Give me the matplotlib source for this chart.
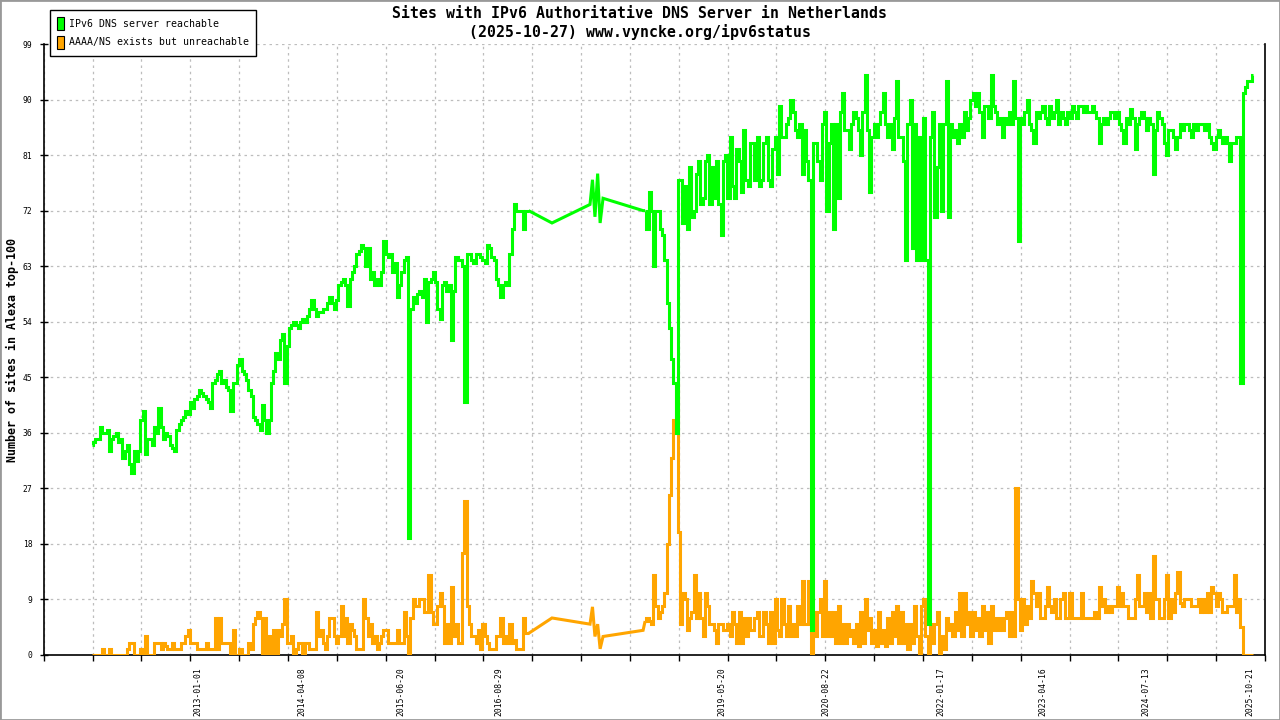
import matplotlib
matplotlib.use("Agg")
import matplotlib.pyplot as plt
import matplotlib.dates as mdates
from matplotlib.patches import Patch, Rectangle
import numpy as np
import pandas as pd

GREEN = "#00ff00"
ORANGE = "#ffa500"
MONO = "DejaVu Sans Mono"

TITLE_1 = "Sites with IPv6 Authoritative DNS Server in Netherlands"
TITLE_2 = "(2025-10-27) www.vyncke.org/ipv6status"
Y_LABEL = "Number of sites in Alexa top-100"
LEGEND = ["IPv6 DNS server reachable", "AAAA/NS exists but unreachable"]

# first block of samples, one value every 10 days
START_A = "2011-09-18"
reach_a = [34, 34.5, 35, 35, 37, 36, 36, 36.5, 33, 35,
           35.5, 36, 34.5, 35, 32, 33, 34, 31, 29.5, 33,
           31.5, 33, 38, 39.5, 32.5, 35, 35, 34, 37, 36,
           40, 37, 35, 36, 35.5, 34, 33.5, 33, 36.5, 37.5,
           38, 38.5, 39.5, 39, 41, 40, 41.5, 42, 43, 42.5,
           42, 41.5, 41, 40, 44, 44.5, 45.5, 46, 44, 44.5,
           43.5, 43, 39.5, 44, 44, 47, 48, 46, 45.5, 44.5,
           43, 42, 38.5, 38, 37.5, 36.5, 40.5, 38, 36, 38,
           44, 46, 49, 48, 51, 52, 44, 50, 53, 53.5,
           54, 53.5, 53, 54, 54.5, 54, 55, 56, 57.5, 56,
           55, 55.5, 55.5, 56, 56, 57, 58, 57, 56, 57.5,
           60, 60.5, 61, 60, 56.5, 61, 62, 63, 65, 65.5,
           66.5, 66, 63, 66, 61, 62, 60, 61, 60, 62,
           67, 65, 64.5, 65, 62, 63.5, 58, 60, 62, 64,
           64.5, 19, 56, 58, 57, 58.5, 59, 58, 61, 54,
           60.5, 61, 62, 60.5, 56, 54.5, 60, 60.5, 59, 60,
           51, 59, 64.5, 64, 64, 63, 41, 65, 65, 64,
           63.5, 65, 65, 64.5, 64, 63.5, 66.5, 66, 64.5, 64,
           61, 60, 58, 60, 60.5, 60, 65, 69, 73, 72,
           72, 72, 69, 72, 72]
unreach_a = [0, 0, 0, 0, 0, 1, 0, 0, 1, 0,
             0, 0, 0, 0, 0, 0, 1, 2, 2, 0,
             0, 0, 1, 0, 3, 0, 0, 0, 2, 2,
             2, 1, 2, 1.5, 1, 1, 2, 1, 1, 1,
             2, 2, 3, 4, 2, 2, 2, 1, 1, 1,
             1, 2, 1, 1, 1, 6, 1, 6, 2, 2,
             2, 2, 0, 4, 0, 0, 1, 0, 0, 0,
             2, 1, 5, 6, 7, 6, 0, 6, 0, 3,
             0, 4, 0, 4, 3, 5, 9, 2, 2, 3,
             0, 1, 2, 2, 0, 2, 2, 1, 1, 1,
             7, 3, 4, 2, 1, 3, 6, 6, 3, 2,
             3, 8, 3, 6, 2, 5, 4, 3, 1, 1,
             1, 9, 6, 3, 5, 2, 3, 1, 2, 3,
             4, 4, 2, 2, 2, 2, 4, 2, 2, 7,
             3, 0, 6, 9, 8, 8, 9, 9, 7, 7,
             13, 7, 5, 5, 8, 10, 8, 2, 5, 2,
             11, 3, 5, 2, 2, 16.5, 25, 8, 5, 3,
             3, 2, 4, 1, 5, 3, 2, 1, 1, 1,
             3, 3, 6, 2, 3, 2, 5, 2, 2.5, 1,
             1, 1, 6, 3.5, 3.5]

# sparse measurements 2017-2018
gap_dates = ["2017-04-23", "2017-10-09", "2017-10-20", "2017-10-31",
             "2017-11-12", "2017-11-23", "2017-12-06", "2018-06-02"]
gap_reach = [70, 73, 77, 71, 78, 70, 74, 72]
gap_unreach = [6, 5, 7.8, 3, 5, 1, 3, 4]

# second block, one value every 10 days
START_B = "2018-06-11"
reach_b = [72, 69, 75, 72, 63, 72, 72, 69, 68, 64,
           57, 53, 48, 44, 36, 77, 77, 70, 76, 69,
           79, 71, 72, 78, 80, 73, 74, 80, 81, 73,
           79, 74, 80, 73, 68, 80, 81, 74, 84, 76,
           74, 82, 80, 75, 85, 77, 76, 83, 83, 77,
           84, 76, 77, 83, 84, 77, 76, 82, 84, 78,
           89, 84, 84, 86, 87, 90, 88, 85, 84, 86,
           78, 85, 80, 77, 4, 83, 83, 80, 77, 86,
           88, 72, 83, 86, 69, 86, 74, 88, 91, 85,
           85, 82, 86, 88, 87, 85, 81, 88, 94, 85,
           75, 84, 86, 84, 86, 88, 91, 86, 84, 86,
           82, 87, 93, 84, 84, 80, 64, 86, 90, 66,
           86, 64, 84, 64, 87, 64, 5, 84, 88, 71,
           79, 86, 72, 86, 93, 71, 86, 84, 85, 83,
           86, 84, 88, 85, 87, 90, 91, 89, 91, 88,
           84, 89, 89, 87, 94, 89, 88, 86, 87, 84,
           87, 86, 88, 86, 93, 87, 67, 87, 86, 88,
           90, 86, 85, 83, 88, 87, 88, 89, 87, 86,
           89, 87, 88, 90, 86, 88, 87, 86, 88, 87,
           89, 88, 87, 89, 89, 88, 89, 88, 88, 89,
           88, 87, 83, 86, 87, 86, 87, 88, 88, 87,
           88, 86, 85, 83, 87, 86, 88.5, 87, 82, 86,
           87, 88, 87, 85, 87, 86, 78, 85, 88, 87,
           86, 83, 81, 85, 85, 84, 82, 84, 86, 85,
           86, 86, 85, 84, 86, 85, 86, 86, 86, 85,
           86, 84, 83, 82, 84, 85, 84, 83, 84, 83,
           80, 83, 83, 84, 84, 44, 91, 92, 93, 93,
           94]
unreach_b = [5.5, 6, 5.5, 5, 13, 8, 6, 7, 8, 10,
             18, 26, 32, 38, 44, 20, 5, 10, 9, 4,
             6, 7, 13, 6, 10, 6, 3, 10, 8, 5,
             5, 4, 2, 5, 5, 4, 4, 5, 3, 7,
             5, 2, 7, 2, 6, 3, 6, 4, 4, 6,
             7, 3, 3, 7, 5, 2, 7, 2, 9, 4,
             3, 9, 5, 3, 8, 3, 5, 3, 8, 5,
             12, 5, 5, 12, 0, 7, 3, 7, 9, 3,
             12, 3, 7, 3, 7, 2, 8, 2, 5, 2,
             5, 3, 4, 2, 5, 1.5, 7, 2, 9, 4,
             6, 2, 4, 1.5, 7, 2, 4, 1.5, 6, 2,
             7, 3, 8, 2, 7, 2, 5, 1, 5, 2,
             8, 3, 0, 8, 9, 3, 0, 5, 2, 5,
             7, 0, 3, 1, 6, 4, 5, 3, 7, 4,
             10, 3, 10, 5, 7, 3, 7, 4, 6, 3,
             8, 4, 7, 2, 8, 4, 6, 4, 6, 4,
             6, 7, 3, 7, 3, 27, 9, 4, 9, 5,
             8, 6, 12, 10, 8, 10, 6, 6, 8, 11,
             8, 7, 9, 6, 6, 9, 10, 6, 6, 10,
             6, 6, 6, 6, 10, 6, 6, 6, 6, 6,
             7, 6, 11, 8, 9, 7, 8, 7, 8, 8,
             11, 8, 10, 8, 8, 6, 6, 6, 9, 13,
             8, 8, 10, 7, 10, 6, 16, 9, 9, 6,
             6, 9, 13, 6, 9, 7, 10, 13.5, 8.5, 8,
             9, 9, 9, 8, 8, 8, 9, 7, 9, 7,
             10, 7, 11, 10, 8, 10, 9, 7, 7, 8,
             8, 8, 13, 7, 9, 4.5, 0, 0, 0, 0,
             0]

label_dates = ["2013-01-01", "2014-04-08", "2015-06-20", "2016-08-29",
               "2019-05-20", "2020-08-22", "2022-01-17", "2023-04-16",
               "2024-07-13", "2025-10-21"]
y_ticks = list(range(0, 100, 9))

dates_a = pd.date_range(START_A, periods=len(reach_a), freq="10D")
dates_b = pd.date_range(START_B, periods=len(reach_b), freq="10D")
gap = list(pd.to_datetime(gap_dates))

fig = plt.figure(figsize=(12.8, 7.2), dpi=100)
ax = fig.add_axes([43.7 / 1280, 65 / 720, (1265 - 43.7) / 1280, 611 / 720])


def draw(vals_a, vals_gap, vals_b, color, z):
    kw = dict(color=color, lw=2.2, solid_capstyle="butt", solid_joinstyle="miter", zorder=z)
    ax.plot(dates_a, vals_a, drawstyle="steps-mid", **kw)
    ax.plot(dates_b, vals_b, drawstyle="steps-mid", **kw)
    # days without data are bridged with straight lines
    ax.plot([dates_a[-1]] + gap + [dates_b[0]],
            [vals_a[-1]] + vals_gap + [vals_b[0]], **kw)


draw(unreach_a, gap_unreach, unreach_b, ORANGE, 3)
draw(reach_a, gap_reach, reach_b, GREEN, 4)

x_lo = pd.Timestamp("2011-02-15")
x_hi = pd.Timestamp("2025-12-26")
ax.set_xlim(x_lo, x_hi)
ax.set_ylim(0, 99)

lo, hi = mdates.date2num(x_lo), mdates.date2num(x_hi)
ax.set_xticks(np.linspace(lo, hi, 26), minor=True)
ax.set_xticks(pd.to_datetime(label_dates))
ax.set_xticklabels(label_dates, rotation=90, fontsize=5.8, family=MONO)
ax.tick_params(axis="x", which="major", length=0, pad=8.5)
ax.tick_params(axis="x", which="minor", length=4.5, width=1, direction="out")

ax.set_yticks(y_ticks)
ax.set_yticklabels([str(v) for v in y_ticks], fontsize=5.8, family=MONO)
ax.tick_params(axis="y", length=6, width=1, direction="inout", pad=5)

grid_kw = dict(color="#bdbdbd", lw=0.9, linestyle=(0, (2, 3)))
ax.xaxis.grid(True, which="minor", **grid_kw)
ax.xaxis.grid(False, which="major")
ax.yaxis.grid(True, which="major", **grid_kw)
ax.set_axisbelow(True)

ax.spines["top"].set_visible(False)
for side in ["left", "bottom", "right"]:
    ax.spines[side].set_linewidth(1.2)
    ax.spines[side].set_color("black")

fig.text(0.5, 1 - 13 / 720, TITLE_1, ha="center", va="center", family=MONO,
         fontsize=10.7, fontweight="semibold")
fig.text(0.5, 1 - 32 / 720, TITLE_2, ha="center", va="center", family=MONO,
         fontsize=10.7, fontweight="semibold")
fig.text(12 / 1280, 370 / 720, Y_LABEL, rotation=90, ha="center", va="center",
         family=MONO, fontsize=8.4, fontweight="bold")

handles = [Patch(facecolor=GREEN, edgecolor="black", linewidth=0.8),
           Patch(facecolor=ORANGE, edgecolor="black", linewidth=0.8)]
leg = fig.legend(handles, LEGEND, loc="upper left", bbox_to_anchor=(50 / 1280, 1 - 10 / 720),
                 prop={"family": MONO, "size": 7.1}, fancybox=False, framealpha=1,
                 edgecolor="black", borderpad=0.7, labelspacing=0.55,
                 handlelength=0.7, handleheight=1.7, handletextpad=0.55, borderaxespad=0)
leg.get_frame().set_linewidth(1)

fig.patches.append(Rectangle((0, 0), 1, 1, transform=fig.transFigure, fill=False,
                             edgecolor="#999999", linewidth=2))

fig.savefig("out.png", dpi=100)
